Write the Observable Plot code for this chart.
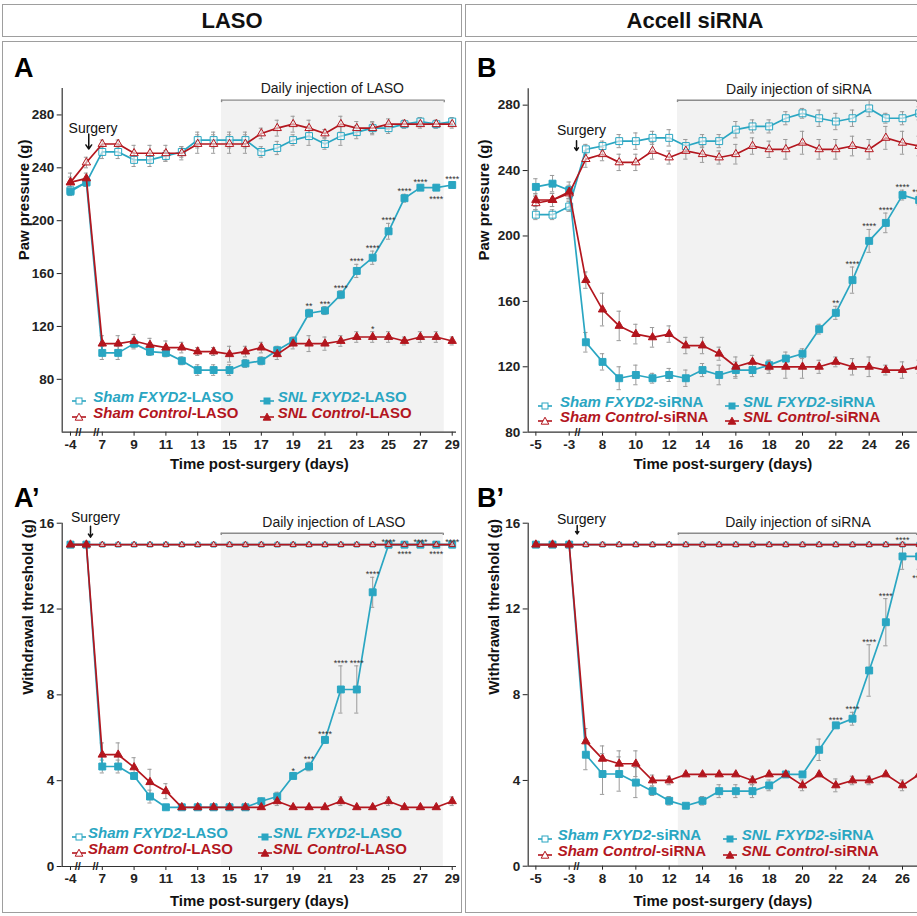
<!DOCTYPE html>
<html>
<head>
<meta charset="utf-8">
<script src="https://cdn.jsdelivr.net/npm/d3@7"></script>
<script src="https://cdn.jsdelivr.net/npm/@observablehq/plot@0.6"></script>
<style>
html,body{margin:0;padding:0;background:#fff;}
#wrap{position:relative;width:917px;height:916px;overflow:hidden;font-family:"Liberation Sans",Arial,Helvetica,sans-serif;}
.box{position:absolute;box-sizing:border-box;border:1.5px solid #9e9e9e;}
.hdr{display:flex;align-items:center;justify-content:center;font-weight:bold;font-size:22px;color:#111;}
.holder{position:absolute;}
.holder svg{display:block;overflow:hidden;}
.letter{position:absolute;font-weight:bold;font-size:27px;line-height:27px;color:#000;}
.lg-sym{position:absolute;}
.lg-txt{position:absolute;font-weight:bold;font-size:15px;line-height:14px;height:14px;white-space:nowrap;}
</style>
</head>
<body>
<div id="wrap"></div>
<script>
const CYAN = "#2aa6c2", RED = "#b3161e";

// ---------- compressed time axis ----------
// LASO: 5 = day -4, 6 = pre-surgery baseline, 7..29 = days post-surgery
const posLASO = [5,6,7,8,9,10,11,12,13,14,15,16,17,18,19,20,21,22,23,24,25,26,27,28,29];
const tickPosLASO = [5,7,9,11,13,15,17,19,21,23,25,27,29];
const tickLabLASO = ["-4","7","9","11","13","15","17","19","21","23","25","27","29"];
// siRNA: 4 = day -5, 5 = day -4, 6 = day -3, 7..27 = days post-surgery
const posSIRNA = [4,5,6,7,8,9,10,11,12,13,14,15,16,17,18,19,20,21,22,23,24,25,26,27];
const tickPosSIRNA = [4,6,8,10,12,14,16,18,20,22,24,26];
const tickLabSIRNA = ["-5","-3","8","10","12","14","16","18","20","22","24","26"];
const ticksPaw = [80,120,160,200,240,280];
const ticksWd = [0,4,8,12,16];

// ---------- A: paw pressure, LASO ----------
const A_shamFXYD2     = [223,229,252,252,246,246,249,252,261,261,261,261,252,255,261,264,258,264,267,270,270,273,275,273,275];
const A_shamFXYD2_err = [3,3,5,5,5,5,4,4,6,6,6,6,4,5,4,7,4,7,5,4,4,3,3,3,3];
const A_shamCtrl      = [229,244,258,258,251,251,251,251,258,258,258,258,266,270,273,270,266,273,270,270,273,273,273,273,273];
const A_shamCtrl_err  = [7,4,3,3,6,6,6,5,7,7,7,7,4,6,6,6,3,6,5,5,4,3,3,3,3];
const A_snlFXYD2      = [222,229,100,100,107,101,100,94,87,87,87,92,94,102,109,130,132,144,162,172,192,217,225,225,227];
const A_snlFXYD2_err  = [3,3,5,5,4,3,3,3,4,4,4,3,3,3,3,3,3,3,5,5,6,3,2,2,2];
const A_snlCtrl       = [229,232,107,107,109,106,104,104,101,101,99,101,104,99,107,107,107,109,112,112,112,109,112,112,109];
const A_snlCtrl_err   = [4,4,6,6,5,5,5,4,3,3,6,4,4,4,4,6,5,4,4,4,4,3,4,4,3];
const A_starsPos   = [20,21,22,23,24,25,26,27,28,29];
const A_starsLab   = ["**","***","****","****","****","****","****","****","****","****"];
const A_starsBelow = [0,0,0,0,0,0,0,0,1,0];
const A_ctrlStarsPos = [24];
const A_ctrlStarsLab = ["*"];

// ---------- B: paw pressure, Accell siRNA ----------
const B_shamFXYD2     = [213,213,218,253,255,258,258,260,260,255,258,258,265,267,267,272,275,272,270,272,278,272,272,275];
const B_shamFXYD2_err = [3,3,3,3,3,4,5,4,5,4,4,4,5,4,4,4,3,5,5,5,5,3,4,4];
const B_shamCtrl      = [220,222,226,247,250,245,245,252,248,252,250,248,250,255,253,253,257,253,253,255,253,260,257,255];
const B_shamCtrl_err  = [4,4,4,5,4,5,5,5,4,5,5,4,6,5,5,6,7,6,6,6,6,7,7,6];
const B_snlFXYD2      = [230,232,228,135,123,113,115,113,115,113,118,115,118,118,121,125,128,143,153,173,197,208,225,222];
const B_snlFXYD2_err  = [5,5,5,6,5,7,6,3,4,5,4,6,5,4,3,4,3,3,4,8,7,6,3,3];
const B_snlCtrl       = [222,222,227,173,155,145,140,138,140,133,133,128,120,123,120,120,120,120,123,120,120,118,118,120];
const B_snlCtrl_err   = [4,4,4,5,10,9,6,6,5,5,5,4,6,4,4,7,7,4,3,5,6,3,5,4];
const B_starsPos   = [22,23,24,25,26,27];
const B_starsLab   = ["**","****","****","****","****","****"];
const B_starsBelow = [0,0,0,0,0,0];

// ---------- A': withdrawal threshold, LASO ----------
const Ap_shamFXYD2     = [15,15,15,15,15,15,15,15,15,15,15,15,15,15,15,15,15,15,15,15,15,15,15,15,15];
const Ap_shamCtrl      = [15,15,15,15,15,15,15,15,15,15,15,15,15,15,15,15,15,15,15,15,15,15,15,15,15];
const Ap_sham_err      = [0,0,0,0,0,0,0,0,0,0,0,0,0,0,0,0,0,0,0,0,0,0,0,0,0];
const Ap_snlFXYD2      = [15,15,4.66,4.66,4.22,3.26,2.76,2.76,2.76,2.76,2.76,2.76,3.04,3.26,4.22,4.66,5.9,8.25,8.25,12.78,15,15,15,15,15];
const Ap_snlFXYD2_err  = [0,0,0.3,0.3,0.15,0.3,0,0,0,0,0,0,0.15,0.2,0.1,0.2,0.15,1.1,1.1,0.7,0,0,0,0,0];
const Ap_snlCtrl       = [15,15,5.21,5.21,4.62,3.93,3.51,2.76,2.76,2.76,2.76,2.76,2.76,3.04,2.76,2.76,2.76,3.04,2.76,2.76,3.04,2.76,2.76,2.76,3.04];
const Ap_snlCtrl_err   = [0,0,0.55,0.55,0.45,0.6,0.35,0,0,0,0,0,0,0.2,0,0,0,0.2,0,0,0.2,0,0,0,0.2];
const Ap_starsPos   = [19,20,21,22,23,24,25,26,27,28,29];
const Ap_starsLab   = ["*","***","****","****","****","****","****","****","****","****","****"];
const Ap_starsBelow = [0,0,0,0,0,0,0,1,0,1,0];

// ---------- B': withdrawal threshold, Accell siRNA ----------
const Bp_shamFXYD2     = [15,15,15,15,15,15,15,15,15,15,15,15,15,15,15,15,15,15,15,15,15,15,15,15];
const Bp_shamCtrl      = [15,15,15,15,15,15,15,15,15,15,15,15,15,15,15,15,15,15,15,15,15,15,15,15];
const Bp_sham_err      = [0,0,0,0,0,0,0,0,0,0,0,0,0,0,0,0,0,0,0,0,0,0,0,0];
const Bp_snlFXYD2      = [15,15,15,5.2,4.3,4.3,3.9,3.5,3.05,2.82,3.05,3.5,3.5,3.5,3.77,4.28,4.28,5.43,6.57,6.88,9.13,11.38,14.45,14.45];
const Bp_snlFXYD2_err  = [0,0,0,0.7,0.95,0.8,0.7,0.2,0.2,0.1,0.2,0.3,0.3,0.3,0.25,0,0,0.5,0.1,0.3,1.2,1.1,0.6,0.6];
const Bp_snlCtrl       = [15,15,15,5.82,5.01,4.78,4.78,4.0,4.0,4.28,4.28,4.28,4.28,4.0,4.28,4.28,3.77,4.28,3.77,4.0,4.0,4.28,3.77,4.28];
const Bp_snlCtrl_err   = [0,0,0,0.6,0.6,0.6,0.6,0.25,0.2,0,0,0,0,0.2,0,0,0.25,0,0.3,0.2,0.2,0,0.25,0];
const Bp_starsPos   = [22,23,24,25,26,27];
const Bp_starsLab   = ["****","****","****","****","****","****"];
const Bp_starsBelow = [0,0,0,0,0,1];

// ---------- text ----------
const headers = ["LASO", "Accell siRNA"];
const letters = ["A", "B", "A\u2019", "B\u2019"];
const legendLASO  = [["Sham FXYD2","-LASO"],["SNL FXYD2","-LASO"],["Sham Control","-LASO"],["SNL Control","-LASO"]];
const legendSIRNA = [["Sham FXYD2","-siRNA"],["SNL FXYD2","-siRNA"],["Sham Control","-siRNA"],["SNL Control","-siRNA"]];

// ---------- panel layout ----------
const panels = [
  {letter:0, left:0, top:40, width:462, height:440, ml:61.7, mr:6, mt:48, mb:48.3,
   pos:posLASO, xDomain:[4.48,29.27], yDomain:[40,300], yTicks:ticksPaw, tp:tickPosLASO, tl:tickLabLASO,
   series:[[A_shamFXYD2,A_shamFXYD2_err],[A_snlFXYD2,A_snlFXYD2_err],[A_shamCtrl,A_shamCtrl_err],[A_snlCtrl,A_snlCtrl_err]],
   stars:[[1,A_starsPos,A_starsLab,A_starsBelow],[3,A_ctrlStarsPos,A_ctrlStarsLab,[0]]],
   yLabel:"Paw pressure (g)", yLabelDx:-37.7, xLabelDy:37, small:false,
   surgery:{tx:6.42, ty:270.1, ax:6.15, ay1:265.6, ay2:254.2},
   daily:{text:"Daily injection of LASO", x:21.46, y:300, by:291.2, bt:1.9, bx1:14.5, bx2:28.5, sx1:14.5, sx2:28.5},
   breaks:[5.5,6.62],
   legend:{rows:[397.1,412.9], sym:[72,260], txt:[93.3,277.7], names:legendLASO}},
  {letter:1, left:466, top:40, width:451, height:440, ml:61.7, mr:0, mt:48.3, mb:48.3,
   pos:posSIRNA, xDomain:[3.54,26.9], yDomain:[80,290], yTicks:ticksPaw, tp:tickPosSIRNA, tl:tickLabSIRNA,
   series:[[B_shamFXYD2,B_shamFXYD2_err],[B_snlFXYD2,B_snlFXYD2_err],[B_shamCtrl,B_shamCtrl_err],[B_snlCtrl,B_snlCtrl_err]],
   stars:[[1,B_starsPos,B_starsLab,B_starsBelow]],
   yLabel:"Paw pressure (g)", yLabelDx:-43.7, xLabelDy:37, small:false,
   surgery:{tx:6.74, ty:264.4, ax:6.44, ay1:258.3, ay2:252.2},
   daily:{text:"Daily injection of siRNA", x:19.78, y:289.6, by:283, bt:1.4, bx1:12.5, bx2:26.85, sx1:12.5, sx2:27.5},
   breaks:[6.5],
   legend:{rows:[401.5,417.3], sym:[538,725], txt:[560,743], names:legendSIRNA}},
  {letter:2, left:0, top:480, width:462, height:433, ml:61.7, mr:6, mt:42.7, mb:47,
   pos:posLASO, xDomain:[4.48,29.27], yDomain:[0,16], yTicks:ticksWd, tp:tickPosLASO, tl:tickLabLASO,
   series:[[Ap_shamFXYD2,Ap_sham_err],[Ap_snlFXYD2,Ap_snlFXYD2_err],[Ap_shamCtrl,Ap_sham_err],[Ap_snlCtrl,Ap_snlCtrl_err]],
   stars:[[1,Ap_starsPos,Ap_starsLab,Ap_starsBelow]],
   yLabel:"Withdrawal threshold (g)", yLabelDx:-34.2, xLabelDy:39.5, small:true,
   surgery:{tx:6.57, ty:16.28, ax:6.26, ay1:15.86, ay2:15.35},
   daily:{text:"Daily injection of LASO", x:21.56, y:16.02, by:15.53, bt:0.1, bx1:14.48, bx2:28.44, sx1:14.48, sx2:28.44},
   breaks:[5.46,6.57],
   legend:{rows:[832.8,848.6], sym:[72,258], txt:[88,273], names:legendLASO}},
  {letter:3, left:466, top:480, width:451, height:433, ml:61.7, mr:0, mt:42.7, mb:47.3,
   pos:posSIRNA, xDomain:[3.54,26.9], yDomain:[0,16], yTicks:ticksWd, tp:tickPosSIRNA, tl:tickLabSIRNA,
   series:[[Bp_shamFXYD2,Bp_sham_err],[Bp_snlFXYD2,Bp_snlFXYD2_err],[Bp_shamCtrl,Bp_sham_err],[Bp_snlCtrl,Bp_snlCtrl_err]],
   stars:[[1,Bp_starsPos,Bp_starsLab,Bp_starsBelow]],
   yLabel:"Withdrawal threshold (g)", yLabelDx:-34.4, xLabelDy:39.5, small:true,
   surgery:{tx:6.74, ty:16.16, ax:6.48, ay1:15.89, ay2:15.5},
   daily:{text:"Daily injection of siRNA", x:19.73, y:16.02, by:15.53, bt:0.1, bx1:12.55, bx2:26.85, sx1:12.55, sx2:27.5},
   breaks:[6.44],
   legend:{rows:[835.4,851.2], sym:[538,723], txt:[557.7,741.7], names:legendSIRNA}}
];

// series styles: sham FXYD2, SNL FXYD2, sham control, SNL control
const styles = [
  {color:CYAN, symbol:"square", filled:false},
  {color:CYAN, symbol:"square", filled:true},
  {color:RED, symbol:"triangle", filled:false},
  {color:RED, symbol:"triangle", filled:true}
];

const wrap = document.getElementById("wrap");
function addDiv(cls, css, html) {
  const d = document.createElement("div");
  d.className = cls;
  Object.assign(d.style, css);
  if (html != null) d.innerHTML = html;
  wrap.appendChild(d);
  return d;
}

// header + panel boxes
addDiv("box hdr", {left:"2px", top:"4px", width:"460px", height:"33px"}, headers[0]);
addDiv("box hdr", {left:"465px", top:"4px", width:"460px", height:"33px"}, headers[1]);
addDiv("box", {left:"2px", top:"41px", width:"460px", height:"872px"});
addDiv("box", {left:"465px", top:"41px", width:"460px", height:"872px"});

const letterPos = [[14,54.5],[477,54.5],[14,484.5],[477,484.5]];

function build(p) {
  const ERR = "#9a9a9a", CAP = 0.13;
  const rows = p.series.map(([v, e]) => p.pos.map((x, i) => ({pos: x, v: v[i], e: e[i]})));
  const d = p.daily, s = p.surgery;
  const marks = [];
  // treatment shading and bracket
  marks.push(Plot.rect([{x1:d.sx1, x2:d.sx2, y1:p.yDomain[0], y2:d.by}], {x1:"x1", x2:"x2", y1:"y1", y2:"y2", fill:"#f2f2f2"}));
  marks.push(Plot.ruleY([{y:d.by, x1:d.bx1, x2:d.bx2}], {y:"y", x1:"x1", x2:"x2", stroke:"#8c8c8c", strokeWidth:1.4}));
  marks.push(Plot.ruleX([{x:d.bx1}, {x:d.bx2}], {x:"x", y1:() => d.by - d.bt, y2:() => d.by, stroke:"#8c8c8c", strokeWidth:1.4}));
  marks.push(Plot.text([d], {x:"x", y:"y", text:"text", fontSize:14, fontWeight:"normal", fill:"#1a1a1a"}));
  // error bars
  rows.forEach(r => {
    const we = r.filter(o => o.e > 0);
    marks.push(Plot.ruleX(we, {x:"pos", y1:o => o.v - o.e, y2:o => o.v + o.e, stroke:ERR, strokeWidth:1}));
    marks.push(Plot.ruleY(we, {y:o => o.v + o.e, x1:o => o.pos - CAP, x2:o => o.pos + CAP, stroke:ERR, strokeWidth:1}));
    marks.push(Plot.ruleY(we, {y:o => o.v - o.e, x1:o => o.pos - CAP, x2:o => o.pos + CAP, stroke:ERR, strokeWidth:1}));
  });
  // lines and markers
  rows.forEach((r, k) => {
    const st = styles[k];
    const isSham = !st.filled;
    const rr = st.symbol === "square" ? (p.small && isSham ? 2.7 : 3.9) : (p.small && isSham ? 2.3 : 3.1);
    marks.push(Plot.line(r, {x:"pos", y:"v", stroke:st.color, strokeWidth:1.7}));
    marks.push(Plot.dot(r, {x:"pos", y:"v", symbol:st.symbol, r:rr, stroke:st.color, strokeWidth:1,
      fill: st.filled ? st.color : "white", fillOpacity: st.filled ? 1 : 0.55}));
  });
  // significance stars
  p.stars.forEach(([k, sp, sl, sb]) => {
    const r = rows[k];
    const items = sp.map((x, i) => {
      const o = r.find(q => q.pos === x);
      return {pos:x, lab:sl[i], below:sb[i], y: sb[i] ? o.v - o.e : o.v + o.e};
    });
    marks.push(Plot.text(items.filter(o => !o.below), {x:"pos", y:"y", text:"lab", dy:-3, fontSize:9, fontWeight:"normal", fill:"#333"}));
    marks.push(Plot.text(items.filter(o => o.below), {x:"pos", y:"y", text:"lab", dy:9, fontSize:9, fontWeight:"normal", fill:"#333"}));
  });
  // surgery annotation
  marks.push(Plot.text([s], {x:"tx", y:"ty", text:() => "Surgery", fontSize:14, fontWeight:"normal", fill:"#111"}));
  marks.push(Plot.arrow([s], {x1:"ax", y1:"ay1", x2:"ax", y2:"ay2", stroke:"#111", strokeWidth:1.5, headLength:6, headAngle:70}));
  // axis lines
  marks.push(Plot.ruleY([p.yDomain[0]], {stroke:"#333", strokeWidth:1.2}));
  marks.push(Plot.ruleX([p.xDomain[0]], {stroke:"#333", strokeWidth:1.2}));
  // axis breaks
  marks.push(Plot.text(p.breaks, {x:b => b, y:() => p.yDomain[0], text:() => "//", fontSize:11, fontWeight:"bold", fill:"#222"}));
  // axis titles
  marks.push(Plot.text([p.yLabel], {frameAnchor:"left", dx:p.yLabelDx, rotate:-90, fontSize:15, fontWeight:"bold", fill:"#111"}));
  marks.push(Plot.text(["Time post-surgery (days)"], {frameAnchor:"bottom", dy:p.xLabelDy, fontSize:15, fontWeight:"bold", fill:"#111"}));

  const svg = Plot.plot({
    width:p.width, height:p.height,
    marginLeft:p.ml, marginRight:p.mr, marginTop:p.mt, marginBottom:p.mb,
    style:{fontFamily:'"Liberation Sans", Arial, sans-serif', fontSize:"13.5px", fontWeight:"bold", color:"#222", background:"transparent", overflow:"hidden"},
    x:{domain:p.xDomain, ticks:p.tp, tickFormat:t => p.tl[p.tp.indexOf(t)], tickSize:4, tickPadding:3, label:null},
    y:{domain:p.yDomain, ticks:p.yTicks, tickSize:5, tickPadding:3, label:null},
    marks
  });
  const h = addDiv("holder", {left:p.left + "px", top:p.top + "px", width:p.width + "px", height:p.height + "px"});
  h.appendChild(svg);

  // panel letter
  const lp = letterPos[p.letter];
  addDiv("letter", {left:lp[0] + "px", top:lp[1] + "px"}, letters[p.letter]);

  // legend
  const L = p.legend;
  L.names.forEach((nm, i) => {
    const col = i % 2, row = Math.floor(i / 2);
    const st = styles[i];
    const f = st.filled ? st.color : "white";
    const m = st.symbol === "square"
      ? `<rect x="4" y="2" width="6" height="6" fill="${f}" stroke="${st.color}" stroke-width="1"/>`
      : `<path d="M7,1.2 L10.8,8.2 L3.2,8.2 Z" fill="${f}" stroke="${st.color}" stroke-width="1"/>`;
    const svgSym = `<svg width="14" height="10" viewBox="0 0 14 10"><line x1="0" y1="5" x2="14" y2="5" stroke="${st.color}" stroke-width="1.6"/>${m}</svg>`;
    addDiv("lg-sym", {left:L.sym[col] + "px", top:(L.rows[row] - 5) + "px", width:"14px", height:"10px"}, svgSym);
    addDiv("lg-txt", {left:L.txt[col] + "px", top:(L.rows[row] - 7) + "px", color:st.color},
      `<i>${nm[0]}</i>${nm[1]}`);
  });
}

panels.forEach(build);
</script>
</body>
</html>
